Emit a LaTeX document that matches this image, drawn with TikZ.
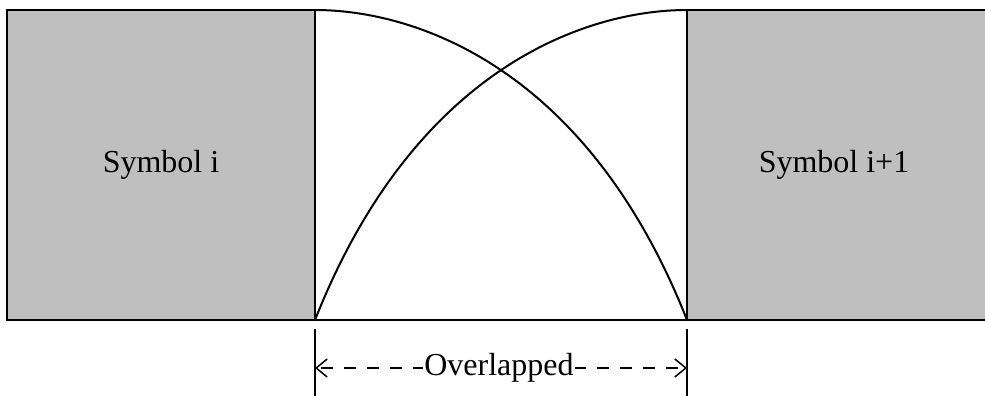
\documentclass[tikz,border=0pt]{standalone}
\usepackage{fontspec}
\setmainfont{Liberation Serif}
\usetikzlibrary{arrows.meta}
\begin{document}
\begin{tikzpicture}[x=1pt,y=-1pt, line width=2pt,
  symfill/.style={fill=black!25},
  lbl/.style={font=\fontsize{32}{38}\selectfont, inner sep=0pt},
  dimline/.style={line width=1.5pt, dash pattern=on 12pt off 11pt, dash phase=-4pt,
    {Straight Barb[length=11pt,width=18pt,line width=1.5pt]}-{Straight Barb[length=11pt,width=18pt,line width=1.5pt]}},
  tick/.style={line width=1.8pt}]
\useasboundingbox (0,0) rectangle (985,396);
% key points
\coordinate (LTL) at (7,10);
\coordinate (LBL) at (7,320);
\coordinate (MTL) at (315,10);
\coordinate (MBL) at (315,320);
\coordinate (MTR) at (687,10);
\coordinate (MBR) at (687,320);
\coordinate (RTR) at (987,10);
\coordinate (RBR) at (987,320);
% gray symbol boxes
\fill[symfill] (LTL) rectangle (MBL);
\fill[symfill] (MTR) rectangle (RBR);
% outlines
\draw (MTL) -- (LTL) -- (LBL) -- (RBR);
\draw (MTL) -- (MBL);
\draw (MTR) -- (MBR);
\draw (MTR) -- (RTR);
% overlapping window curves
\draw (MBL) .. controls (415,67) and (587,10) .. (MTR);
\draw (MBR) .. controls (587,67) and (415,10) .. (MTL);
% labels
\node[lbl] (s1) at (161,165) {Symbol i};
\node[lbl] (s2) at (834,165) {Symbol i+1};
% dimension
\coordinate (t1a) at (315,329);
\coordinate (t1b) at (315,396);
\coordinate (t2a) at (687,329);
\coordinate (t2b) at (687,396);
\draw[tick] (t1a) -- (t1b);
\draw[tick] (t2a) -- (t2b);
\coordinate (d1) at (315,368);
\coordinate (d2) at (687,368);
\draw[dimline] (d1) -- (d2);
\node[lbl, fill=white, inner xsep=1pt, inner ysep=3pt] (ov) at (499,368) {Overlapped};
\end{tikzpicture}
\end{document}
